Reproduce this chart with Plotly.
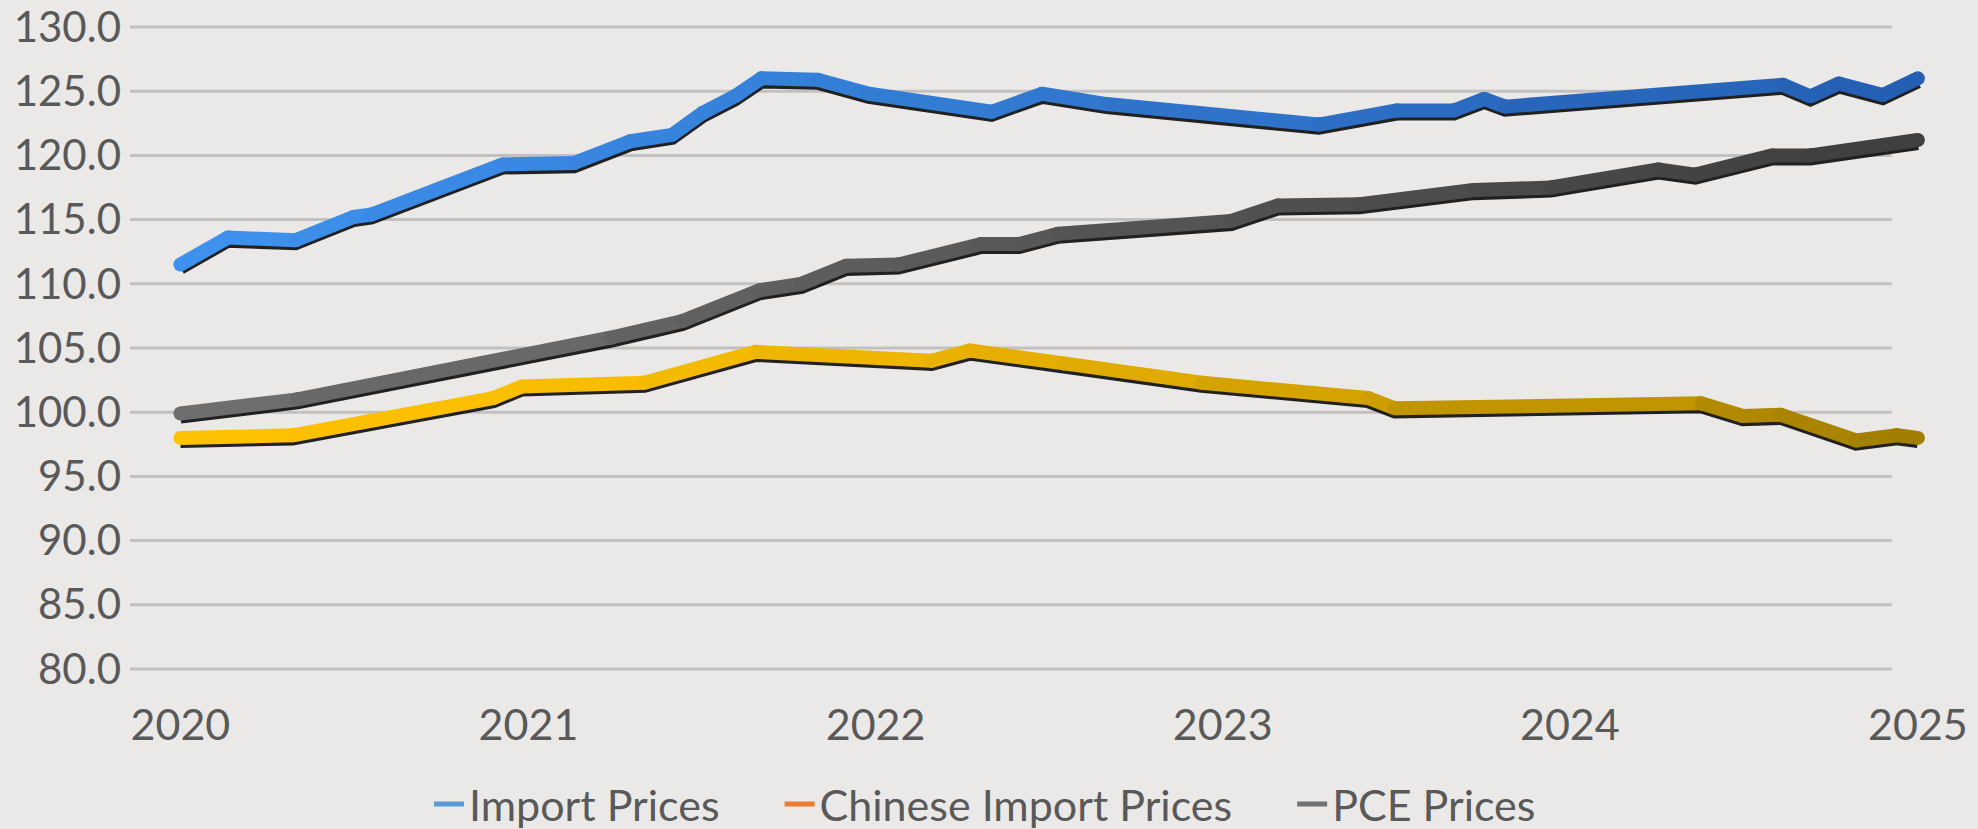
import plotly.graph_objects as go
import pandas as pd

# ---------------- data ----------------
dates_import = ["2020-01-01", "2020-02-20", "2020-05-01", "2020-07-01", "2020-07-20",
                "2020-12-05", "2021-02-18", "2021-04-18", "2021-06-01", "2021-07-03",
                "2021-08-06", "2021-09-03", "2021-11-01", "2021-12-25", "2022-05-03",
                "2022-06-25", "2022-09-01", "2023-04-12", "2023-07-03", "2023-09-01",
                "2023-10-03", "2023-10-25", "2024-08-12", "2024-09-10", "2024-10-10",
                "2024-11-25", "2025-01-01"]
import_prices = [111.5, 113.6, 113.4, 115.2, 115.4, 119.3, 119.4, 121.1, 121.6, 123.3,
                 124.6, 126.0, 125.9, 124.8, 123.4, 124.8, 124.0, 122.4, 123.5, 123.5,
                 124.4, 123.8, 125.5, 124.6, 125.6, 124.7, 126.0]

dates_chinese = ["2020-01-01", "2020-04-28", "2020-11-25", "2020-12-25", "2021-05-03",
                 "2021-08-28", "2022-03-01", "2022-04-10", "2022-07-18", "2022-12-10",
                 "2023-06-03", "2023-07-01", "2024-05-18", "2024-07-01", "2024-08-10",
                 "2024-10-28", "2024-12-10", "2025-01-01"]
chinese_import_prices = [98.0, 98.2, 101.1, 102.0, 102.3, 104.7, 104.0, 104.8, 103.8, 102.3,
                         101.1, 100.3, 100.7, 99.7, 99.8, 97.8, 98.2, 98.0]

dates_pce = ["2020-01-01", "2020-05-03", "2021-03-28", "2021-06-12", "2021-09-01",
             "2021-10-15", "2021-12-01", "2022-01-25", "2022-04-22", "2022-06-01",
             "2022-07-12", "2023-01-10", "2023-02-28", "2023-05-25", "2023-09-22",
             "2023-12-12", "2024-04-03", "2024-05-12", "2024-08-01", "2024-09-10",
             "2025-01-01"]
pce_prices = [99.9, 101.0, 105.8, 107.1, 109.5, 110.0, 111.4, 111.5, 113.1, 113.1,
              113.9, 114.9, 116.1, 116.2, 117.3, 117.5, 118.9, 118.5, 120.0, 120.0, 121.2]

series_names = ["Import Prices", "Chinese Import Prices", "PCE Prices"]
y_ticks = [80, 85, 90, 95, 100, 105, 110, 115, 120, 125, 130]

# ---------------- styling ----------------
FONT = "Lato"
TEXT = "#595959"
BG = "#ebe9e8"
legend_colors = ["#5b9bd5", "#ed7d31", "#727272"]
grad = {
    "Import Prices": ((62, 146, 238), (36, 94, 178), 1.0),
    "Chinese Import Prices": ((255, 194, 0), (160, 125, 0), 1.8),
    "PCE Prices": ((112, 112, 112), (62, 62, 62), 1.0),
}
LW = 14
SHADOW = 0.24
PAD = "\u00a0" * 5  # spacing between legend entries

t0 = pd.Timestamp("2020-01-01")
t1 = pd.Timestamp("2025-01-01")


def mix(c0, c1, f, g):
    f = max(0.0, min(1.0, f)) ** g
    return "rgb(%d,%d,%d)" % tuple(round(a + (b - a) * f) for a, b in zip(c0, c1))


fig = go.Figure()

data = [
    ("Import Prices", dates_import, import_prices),
    ("Chinese Import Prices", dates_chinese, chinese_import_prices),
    ("PCE Prices", dates_pce, pce_prices),
]

# shadows
for name, dts, vals in data:
    fig.add_trace(go.Scatter(
        x=dts, y=[v - SHADOW for v in vals], mode="lines",
        line=dict(color="rgba(15,15,15,0.92)", width=LW),
        showlegend=False, hoverinfo="skip"))

# gradient coloured segments
for name, dts, vals in data:
    c0, c1, g = grad[name]
    ts = pd.to_datetime(dts)
    for i in range(len(vals) - 1):
        mid = ts[i] + (ts[i + 1] - ts[i]) / 2
        f = (mid - t0) / (t1 - t0)
        col = mix(c0, c1, f, g)
        fig.add_trace(go.Scatter(
            x=[dts[i], dts[i + 1]], y=[vals[i], vals[i + 1]],
            mode="lines+markers",
            line=dict(color=col, width=LW),
            marker=dict(color=col, size=LW, line=dict(width=0)),
            showlegend=False, hoverinfo="skip"))

# legend entries
for k, (name, col) in enumerate(zip(series_names, legend_colors)):
    label = name + (PAD if k < len(series_names) - 1 else "")
    fig.add_trace(go.Scatter(
        x=[None], y=[None], mode="lines", name=label,
        line=dict(color=col, width=5)))

# gridlines
for v in y_ticks:
    fig.add_shape(type="line", xref="paper", yref="y", x0=0, x1=0.976, y0=v, y1=v,
                  line=dict(color="#c1c1c1", width=3), layer="below")

fig.update_layout(
    width=1978, height=829,
    margin=dict(l=130, r=43, t=10, b=139, autoexpand=False),
    paper_bgcolor=BG, plot_bgcolor=BG,
    font=dict(family=FONT, color=TEXT, size=43),
    showlegend=True,
    legend=dict(orientation="h", x=0.4737, xanchor="center",
                yref="container", y=0.030, yanchor="middle",
                font=dict(family=FONT, size=43, color=TEXT), bgcolor="rgba(0,0,0,0)",
                itemwidth=30),
    xaxis=dict(type="date", range=["2019-11-09", "2025-01-19"],
               tick0="2020-01-01", dtick="M12", tickformat="%Y",
               showgrid=False, zeroline=False, showline=False, ticks="",
               automargin=False,
               tickfont=dict(family=FONT, size=43, color=TEXT), ticklabelstandoff=6),
    yaxis=dict(range=[78.364, 131.324], tickvals=y_ticks, tickformat=".1f",
               showgrid=False, zeroline=False, showline=False, ticks="",
               automargin=False, ticklabeloverflow="allow",
               tickfont=dict(family=FONT, size=42, color=TEXT), ticklabelstandoff=8),
)

fig.write_html("out.html", config={"displayModeBar": False},
               post_script="document.body.style.margin='0';document.body.style.overflow='hidden';")
